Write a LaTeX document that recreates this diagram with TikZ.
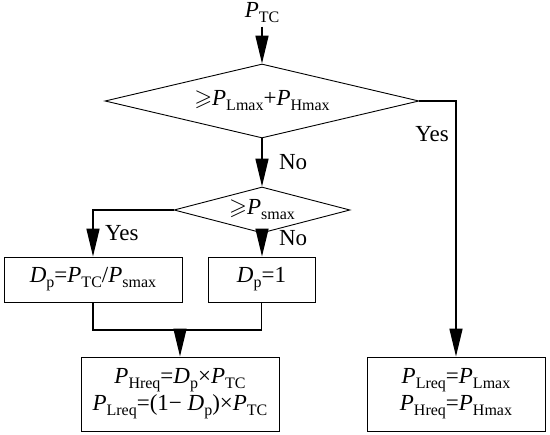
\documentclass[tikz,border=0pt]{standalone}
\usepackage{amssymb}
\usepackage{fontspec}
\setmainfont{Liberation Serif}
\usetikzlibrary{shapes.geometric,arrows.meta,positioning}
\newcommand{\pv}[2]{\textit{#1}\raisebox{-0.22em}{\fontsize{16}{16}\selectfont #2}}
\tikzset{
  decide/.style={diamond, draw, line width=0.9pt, inner sep=0pt, aspect=4},
  procbox/.style={rectangle, draw, line width=0.9pt, align=center, inner sep=2pt},
  flow/.style={->, line width=1.6pt},
}
\begin{document}
\begin{tikzpicture}[x=1pt,y=-1pt,font=\fontsize{23}{27}\selectfont,line join=miter,>={Triangle[length=28pt,width=13pt]}]
\useasboundingbox (0,0) rectangle (550,435);
\node (ptc) at (262,13) {\pv{P}{TC}};
\node[decide, minimum width=314pt, minimum height=74pt] (d1) at (262,101) {$\geqslant$\pv{P}{Lmax}+\pv{P}{Hmax}};
\node[decide, minimum width=176pt, minimum height=46pt] (d2) at (262,210) {$\geqslant$\pv{P}{smax}};
\node[procbox, minimum width=178pt, minimum height=45pt] (b1) at (93,279.5) {\pv{D}{p}=\pv{P}{TC}/\pv{P}{smax}};
\node[procbox, minimum width=107pt, minimum height=45pt] (b2) at (261.5,279.5) {\pv{D}{p}=1};
\node[procbox, minimum width=198pt, minimum height=74pt] (b3) at (180,394) {\pv{P}{Hreq}=\pv{D}{p}×\pv{P}{TC}\\\pv{P}{Lreq}=(1− \pv{D}{p})×\pv{P}{TC}};
\node[procbox, minimum width=178pt, minimum height=74pt] (b4) at (456,394) {\pv{P}{Lreq}=\pv{P}{Lmax}\\\pv{P}{Hreq}=\pv{P}{Hmax}};
\coordinate (merge) at (180,330);
% connectors
\draw[flow] (ptc) -- (d1);
\draw[flow] (d1) -- node[right=13pt] {No} (d2);
\draw[flow] (d2.west) -| node[right=8pt, pos=0.75] {Yes} (b1);
\draw[flow] (d2.south) -- node[right=13pt, pos=0.2] {No} (d2.south |- b2.north);
\draw[flow] (d1.east) -| node[left=3pt, pos=0.565] {Yes} (b4);
\draw[line width=1.6pt] (b1.south) |- (merge) -| (b2.south);
\draw[flow] (merge) -- (b3);
\end{tikzpicture}
\end{document}
